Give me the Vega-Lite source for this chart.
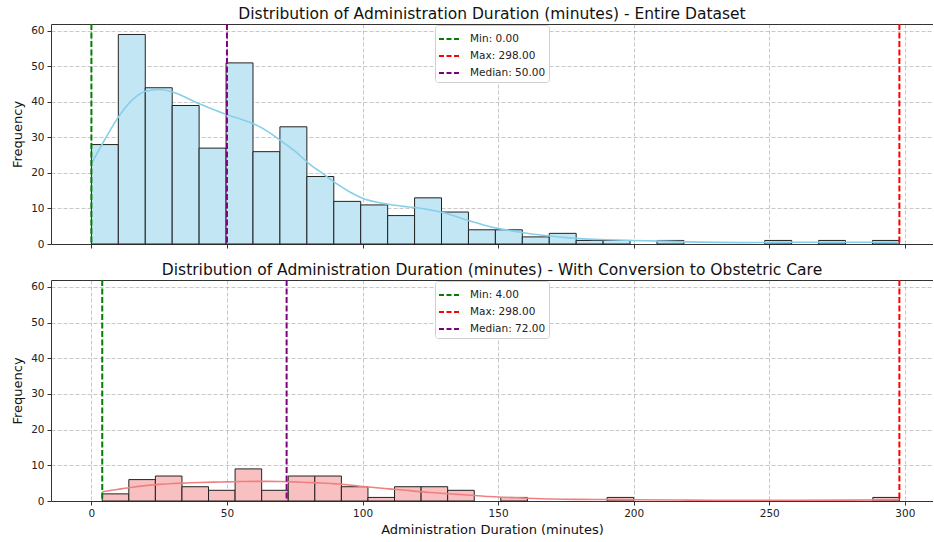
{
  "$schema": "https://vega.github.io/schema/vega-lite/v6.json",
  "padding": {"left": 11, "top": 6, "right": 0, "bottom": 1},
  "background": "white",
  "config": {
    "view": {"stroke": null},
    "font": "DejaVu Sans",
    "axis": {"domainColor": "#333", "tickColor": "#333", "labelFont": "DejaVu Sans", "labelFontSize": 10.5, "labelColor": "#222", "titleFont": "DejaVu Sans", "titleFontSize": 13, "titleFontWeight": "normal", "titleColor": "#111", "gridColor": "#b0b0b0", "gridOpacity": 0.7, "gridDash": [4, 2], "tickSize": 4, "labelPadding": 3, "domainWidth": 1},
    "title": {"font": "DejaVu Sans", "fontSize": 15.5, "fontWeight": "normal", "anchor": "middle", "offset": 1, "color": "#111"},
    "legend": {"labelFont": "DejaVu Sans", "labelFontSize": 10.5, "labelColor": "#222"}
  },
  "datasets": {
    "top_bins": [
      {"bin_start": 0, "bin_end": 9.93, "count": 28},
      {"bin_start": 9.93, "bin_end": 19.87, "count": 59},
      {"bin_start": 19.87, "bin_end": 29.8, "count": 44},
      {"bin_start": 29.8, "bin_end": 39.73, "count": 39},
      {"bin_start": 39.73, "bin_end": 49.67, "count": 27},
      {"bin_start": 49.67, "bin_end": 59.6, "count": 51},
      {"bin_start": 59.6, "bin_end": 69.53, "count": 26},
      {"bin_start": 69.53, "bin_end": 79.47, "count": 33},
      {"bin_start": 79.47, "bin_end": 89.4, "count": 19},
      {"bin_start": 89.4, "bin_end": 99.33, "count": 12},
      {"bin_start": 99.33, "bin_end": 109.27, "count": 11},
      {"bin_start": 109.27, "bin_end": 119.2, "count": 8},
      {"bin_start": 119.2, "bin_end": 129.13, "count": 13},
      {"bin_start": 129.13, "bin_end": 139.07, "count": 9},
      {"bin_start": 139.07, "bin_end": 149, "count": 4},
      {"bin_start": 149, "bin_end": 158.93, "count": 4},
      {"bin_start": 158.93, "bin_end": 168.87, "count": 2},
      {"bin_start": 168.87, "bin_end": 178.8, "count": 3},
      {"bin_start": 178.8, "bin_end": 188.73, "count": 1},
      {"bin_start": 188.73, "bin_end": 198.67, "count": 1},
      {"bin_start": 208.6, "bin_end": 218.53, "count": 1},
      {"bin_start": 248.33, "bin_end": 258.27, "count": 1},
      {"bin_start": 268.2, "bin_end": 278.13, "count": 1},
      {"bin_start": 288.07, "bin_end": 298, "count": 1}
    ],
    "top_kde": [
      {"x": 0, "density": 22.6}, {"x": 5, "density": 29.5}, {"x": 10, "density": 35.8}, {"x": 15, "density": 40.5},
      {"x": 20, "density": 43}, {"x": 25, "density": 43.5}, {"x": 30, "density": 42.8}, {"x": 35, "density": 41.2},
      {"x": 40, "density": 39.4}, {"x": 45, "density": 37.9}, {"x": 50, "density": 36.4}, {"x": 55, "density": 35.2},
      {"x": 60, "density": 33.8}, {"x": 65, "density": 31.7}, {"x": 70, "density": 29.0}, {"x": 75, "density": 26.2},
      {"x": 80, "density": 22.8}, {"x": 85, "density": 20}, {"x": 90, "density": 17.2}, {"x": 95, "density": 14.8},
      {"x": 100, "density": 12.9}, {"x": 105, "density": 11.8}, {"x": 110, "density": 11.1}, {"x": 115, "density": 10.6},
      {"x": 120, "density": 10.2}, {"x": 125, "density": 9.6}, {"x": 130, "density": 8.8}, {"x": 135, "density": 7.6},
      {"x": 140, "density": 6.4}, {"x": 145, "density": 5.3}, {"x": 150, "density": 4.4}, {"x": 155, "density": 3.7},
      {"x": 160, "density": 3.1}, {"x": 165, "density": 2.6}, {"x": 170, "density": 2.2}, {"x": 175, "density": 1.8},
      {"x": 180, "density": 1.5}, {"x": 190, "density": 1.2}, {"x": 200, "density": 1.0}, {"x": 210, "density": 0.8},
      {"x": 220, "density": 0.6}, {"x": 230, "density": 0.45}, {"x": 240, "density": 0.4}, {"x": 250, "density": 0.45},
      {"x": 260, "density": 0.5}, {"x": 270, "density": 0.5}, {"x": 280, "density": 0.5}, {"x": 290, "density": 0.5},
      {"x": 298, "density": 0.45}
    ],
    "top_lines": [
      {"label": "Min: 0.00", "value": 0},
      {"label": "Max: 298.00", "value": 298},
      {"label": "Median: 50.00", "value": 50}
    ],
    "bot_bins": [
      {"bin_start": 4, "bin_end": 13.8, "count": 2},
      {"bin_start": 13.8, "bin_end": 23.6, "count": 6},
      {"bin_start": 23.6, "bin_end": 33.4, "count": 7},
      {"bin_start": 33.4, "bin_end": 43.2, "count": 4},
      {"bin_start": 43.2, "bin_end": 53, "count": 3},
      {"bin_start": 53, "bin_end": 62.8, "count": 9},
      {"bin_start": 62.8, "bin_end": 72.6, "count": 3},
      {"bin_start": 72.6, "bin_end": 82.4, "count": 7},
      {"bin_start": 82.4, "bin_end": 92.2, "count": 7},
      {"bin_start": 92.2, "bin_end": 102, "count": 4},
      {"bin_start": 102, "bin_end": 111.8, "count": 1},
      {"bin_start": 111.8, "bin_end": 121.6, "count": 4},
      {"bin_start": 121.6, "bin_end": 131.4, "count": 4},
      {"bin_start": 131.4, "bin_end": 141.2, "count": 3},
      {"bin_start": 151, "bin_end": 160.8, "count": 1},
      {"bin_start": 190.2, "bin_end": 200, "count": 1},
      {"bin_start": 288.2, "bin_end": 298, "count": 1}
    ],
    "bot_kde": [
      {"x": 4, "density": 2.6}, {"x": 10, "density": 3.3}, {"x": 15, "density": 3.85}, {"x": 20, "density": 4.3},
      {"x": 25, "density": 4.65}, {"x": 30, "density": 4.9}, {"x": 35, "density": 5.05}, {"x": 40, "density": 5.2},
      {"x": 45, "density": 5.3}, {"x": 50, "density": 5.35}, {"x": 55, "density": 5.45}, {"x": 60, "density": 5.5},
      {"x": 65, "density": 5.5}, {"x": 70, "density": 5.45}, {"x": 75, "density": 5.35}, {"x": 80, "density": 5.2},
      {"x": 85, "density": 5.05}, {"x": 90, "density": 4.8}, {"x": 95, "density": 4.5}, {"x": 100, "density": 4.05},
      {"x": 105, "density": 3.7}, {"x": 110, "density": 3.4}, {"x": 115, "density": 3.1}, {"x": 120, "density": 2.7},
      {"x": 125, "density": 2.4}, {"x": 130, "density": 2.1}, {"x": 135, "density": 1.85}, {"x": 140, "density": 1.6},
      {"x": 145, "density": 1.35}, {"x": 150, "density": 1.1}, {"x": 155, "density": 0.95}, {"x": 160, "density": 0.8},
      {"x": 170, "density": 0.55}, {"x": 180, "density": 0.45}, {"x": 190, "density": 0.4}, {"x": 200, "density": 0.35},
      {"x": 220, "density": 0.25}, {"x": 240, "density": 0.2}, {"x": 260, "density": 0.2}, {"x": 280, "density": 0.25},
      {"x": 298, "density": 0.35}
    ],
    "bot_lines": [
      {"label": "Min: 4.00", "value": 4},
      {"label": "Max: 298.00", "value": 298},
      {"label": "Median: 72.00", "value": 72}
    ]
  },
  "spacing": 12,
  "resolve": {"scale": {"color": "independent"}, "legend": {"color": "independent"}},
  "vconcat": [
    {
      "width": 882,
      "height": 220,
      "title": {"text": "Distribution of Administration Duration (minutes) - Entire Dataset"},
      "resolve": {"axis": {"x": "independent"}},
      "layer": [
        {
          "data": {"name": "top_bins"},
          "mark": {"type": "bar", "fill": "#c3e6f5", "stroke": "#222", "strokeWidth": 1},
          "encoding": {
            "x": {"field": "bin_start", "type": "quantitative", "scale": {"domain": [-14.9, 310.4], "nice": false, "zero": false},
                  "axis": {"values": [0, 50, 100, 150, 200, 250, 300], "labels": false, "title": null, "grid": true}},
            "x2": {"field": "bin_end"},
            "y": {"field": "count", "type": "quantitative", "scale": {"domain": [0, 61.95], "nice": false},
                  "axis": {"title": "Frequency", "values": [0, 10, 20, 30, 40, 50, 60], "grid": true, "titlePadding": 6}},
            "y2": {"datum": 0}
          }
        },
        {
          "data": {"name": "top_kde"},
          "mark": {"type": "line", "color": "#87ceeb", "strokeWidth": 1.6, "interpolate": "monotone"},
          "encoding": {
            "x": {"field": "x", "type": "quantitative", "axis": null},
            "y": {"field": "density", "type": "quantitative", "axis": {"title": "Frequency", "values": [0, 10, 20, 30, 40, 50, 60], "grid": true, "titlePadding": 6}}
          }
        },
        {
          "data": {"name": "top_lines"},
          "mark": {"type": "rule", "strokeWidth": 2, "strokeDash": [6, 2.5]},
          "encoding": {
            "x": {"field": "value", "type": "quantitative",
                  "axis": {"orient": "top", "labels": false, "ticks": false, "grid": false, "domain": true, "title": null}},
            "color": {"field": "label", "type": "nominal",
                      "scale": {"domain": ["Min: 0.00", "Max: 298.00", "Median: 50.00"], "range": ["#008000", "#ff0000", "#800080"]},
                      "legend": {"orient": "none", "legendX": 384, "legendY": 1, "title": null, "symbolType": "stroke", "symbolStrokeWidth": 2, "symbolDash": [5, 2.5], "symbolSize": 400, "fillColor": "white", "strokeColor": "#d0d0d0", "padding": 3, "cornerRadius": 3, "rowPadding": 0, "labelOffset": 10}}
          }
        }
      ]
    },
    {
      "width": 882,
      "height": 221,
      "title": {"text": "Distribution of Administration Duration (minutes) - With Conversion to Obstetric Care"},
      "resolve": {"axis": {"x": "independent"}},
      "layer": [
        {
          "data": {"name": "bot_bins"},
          "mark": {"type": "bar", "fill": "#f8c0c0", "stroke": "#222", "strokeWidth": 1},
          "encoding": {
            "x": {"field": "bin_start", "type": "quantitative", "scale": {"domain": [-14.9, 310.4], "nice": false, "zero": false},
                  "axis": {"values": [0, 50, 100, 150, 200, 250, 300], "title": "Administration Duration (minutes)", "grid": true, "titlePadding": 5}},
            "x2": {"field": "bin_end"},
            "y": {"field": "count", "type": "quantitative", "scale": {"domain": [0, 61.95], "nice": false},
                  "axis": {"title": "Frequency", "values": [0, 10, 20, 30, 40, 50, 60], "grid": true, "titlePadding": 6}},
            "y2": {"datum": 0}
          }
        },
        {
          "data": {"name": "bot_kde"},
          "mark": {"type": "line", "color": "#f08080", "strokeWidth": 1.6, "interpolate": "monotone"},
          "encoding": {
            "x": {"field": "x", "type": "quantitative", "axis": null},
            "y": {"field": "density", "type": "quantitative", "axis": {"title": "Frequency", "values": [0, 10, 20, 30, 40, 50, 60], "grid": true, "titlePadding": 6}}
          }
        },
        {
          "data": {"name": "bot_lines"},
          "mark": {"type": "rule", "strokeWidth": 2, "strokeDash": [6, 2.5]},
          "encoding": {
            "x": {"field": "value", "type": "quantitative",
                  "axis": {"orient": "top", "labels": false, "ticks": false, "grid": false, "domain": true, "title": null}},
            "color": {"field": "label", "type": "nominal",
                      "scale": {"domain": ["Min: 4.00", "Max: 298.00", "Median: 72.00"], "range": ["#008000", "#ff0000", "#800080"]},
                      "legend": {"orient": "none", "legendX": 384, "legendY": 1, "title": null, "symbolType": "stroke", "symbolStrokeWidth": 2, "symbolDash": [5, 2.5], "symbolSize": 400, "fillColor": "white", "strokeColor": "#d0d0d0", "padding": 3, "cornerRadius": 3, "rowPadding": 0, "labelOffset": 10}}
          }
        }
      ]
    }
  ]
}
